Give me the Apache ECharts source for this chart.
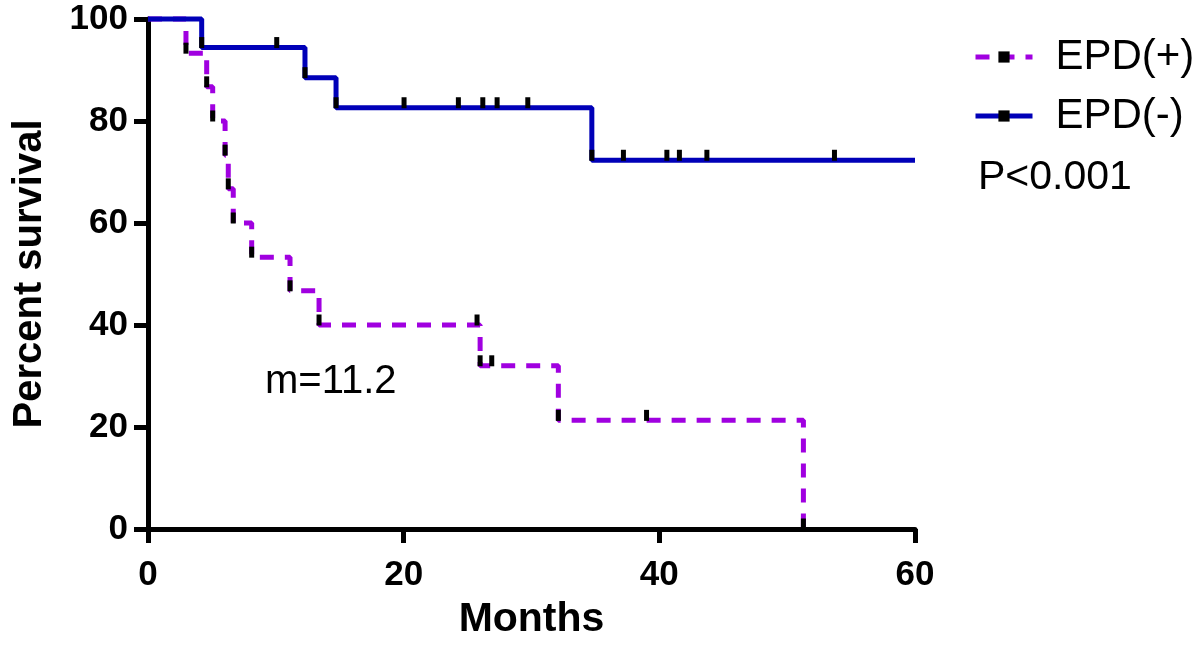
<!DOCTYPE html>
<html>
<head>
<meta charset="utf-8">
<script src="https://cdn.jsdelivr.net/npm/echarts@6/dist/echarts.min.js"></script>
<style>
html,body{margin:0;padding:0;background:#fff;}
#chart{width:1200px;height:647px;}
</style>
</head>
<body>
<div id="chart"></div>
<script>
// EPD(+) group: time (months) and percent survival at each point (first = start)
const plusTimes = [0, 2.97, 4.59, 5.06, 6.03, 6.28, 6.67, 8.11, 11.11, 13.38, 25.74, 25.98, 26.89, 32.1, 39.0, 51.27];
const plusSurv  = [100, 93.3, 86.7, 80.0, 73.3, 66.7, 60.0, 53.3, 46.7, 40.0, 40.0, 32.0, 32.0, 21.3, 21.3, 0];
// EPD(-) group
const minusTimes = [0, 4.2, 10.07, 12.28, 14.71, 20.03, 24.28, 26.19, 27.31, 29.71, 34.72, 37.19, 40.59, 41.57, 43.72, 53.7, 60];
const minusSurv  = [100, 94.4, 94.4, 88.5, 82.6, 82.6, 82.6, 82.6, 82.6, 82.6, 72.3, 72.3, 72.3, 72.3, 72.3, 72.3, 72.3];
const seriesNames = ['EPD(+)', 'EPD(-)'];
const xTicks = [0, 20, 40, 60];
const yTicks = [0, 20, 40, 60, 80, 100];
const medianText = 'm=11.2';
const pText = 'P<0.001';

const FONT = "'Liberation Sans', Arial, Helvetica, sans-serif";
const TICK = 'rect';

function buildData(times, surv, lastNone) {
  return times.map((t, i) => {
    const none = i === 0 || (lastNone && i === times.length - 1);
    return { value: [t, surv[i]], symbol: none ? 'none' : TICK };
  });
}

const chart = echarts.init(document.getElementById('chart'), null, { renderer: 'canvas' });
chart.setOption({
  animation: false,
  backgroundColor: '#fff',
  grid: { left: 148, right: 285, top: 19, bottom: 118, containLabel: false },
  legend: {
    orient: 'vertical',
    left: 968,
    top: 29,
    itemWidth: 57,
    itemHeight: 14,
    itemGap: 13,
    data: seriesNames,
    selectedMode: false,
    lineStyle: { width: 5 },
    textStyle: { fontSize: 42, fontFamily: FONT, color: '#000', lineHeight: 46, padding: [0, 0, 0, 18] }
  },
  xAxis: {
    type: 'value', min: xTicks[0], max: xTicks[xTicks.length - 1], interval: 20,
    name: 'Months', nameLocation: 'middle', nameGap: 70,
    nameTextStyle: { fontSize: 41, fontWeight: 'bold', fontFamily: FONT, color: '#000' },
    axisLine: { show: true, onZero: false, lineStyle: { color: '#000', width: 5 } },
    axisTick: { show: true, length: 14, lineStyle: { color: '#000', width: 5 } },
    axisLabel: { fontSize: 35, fontWeight: 'bold', fontFamily: FONT, color: '#000', margin: 29 },
    splitLine: { show: false }
  },
  yAxis: {
    type: 'value', min: yTicks[0], max: yTicks[yTicks.length - 1], interval: 20,
    name: 'Percent survival', nameLocation: 'middle', nameGap: 98,
    nameTextStyle: { fontSize: 40, fontWeight: 'bold', fontFamily: FONT, color: '#000' },
    axisLine: { show: true, onZero: false, lineStyle: { color: '#000', width: 5 } },
    axisTick: { show: true, length: 14, lineStyle: { color: '#000', width: 5 } },
    axisLabel: { fontSize: 35, fontWeight: 'bold', fontFamily: FONT, color: '#000', margin: 20 },
    splitLine: { show: false }
  },
  series: [
    {
      name: seriesNames[0], type: 'line', step: 'end', z: 2,
      data: buildData(plusTimes, plusSurv, false),
      symbol: TICK, symbolSize: [5, 11], symbolOffset: [0, -5],
      showAllSymbol: true,
      itemStyle: { color: '#000', borderWidth: 0 },
      lineStyle: { color: '#A000E0', width: 5, type: [14, 11], cap: 'butt' },
      emphasis: { disabled: true },
      clip: false
    },
    {
      name: seriesNames[1], type: 'line', step: 'end', z: 3,
      data: buildData(minusTimes, minusSurv, true),
      symbol: TICK, symbolSize: [5, 11], symbolOffset: [0, -5],
      showAllSymbol: true,
      itemStyle: { color: '#000', borderWidth: 0 },
      lineStyle: { color: '#0000B8', width: 5, type: 'solid' },
      emphasis: { disabled: true },
      clip: false
    }
  ],
  graphic: [
    { type: 'text', left: 265, top: 362, style: { text: medianText, fontSize: 40, fontFamily: FONT, fill: '#000' } },
    { type: 'text', left: 978, top: 157, style: { text: pText, fontSize: 41, fontFamily: FONT, fill: '#000' } }
  ]
});
</script>
</body>
</html>
